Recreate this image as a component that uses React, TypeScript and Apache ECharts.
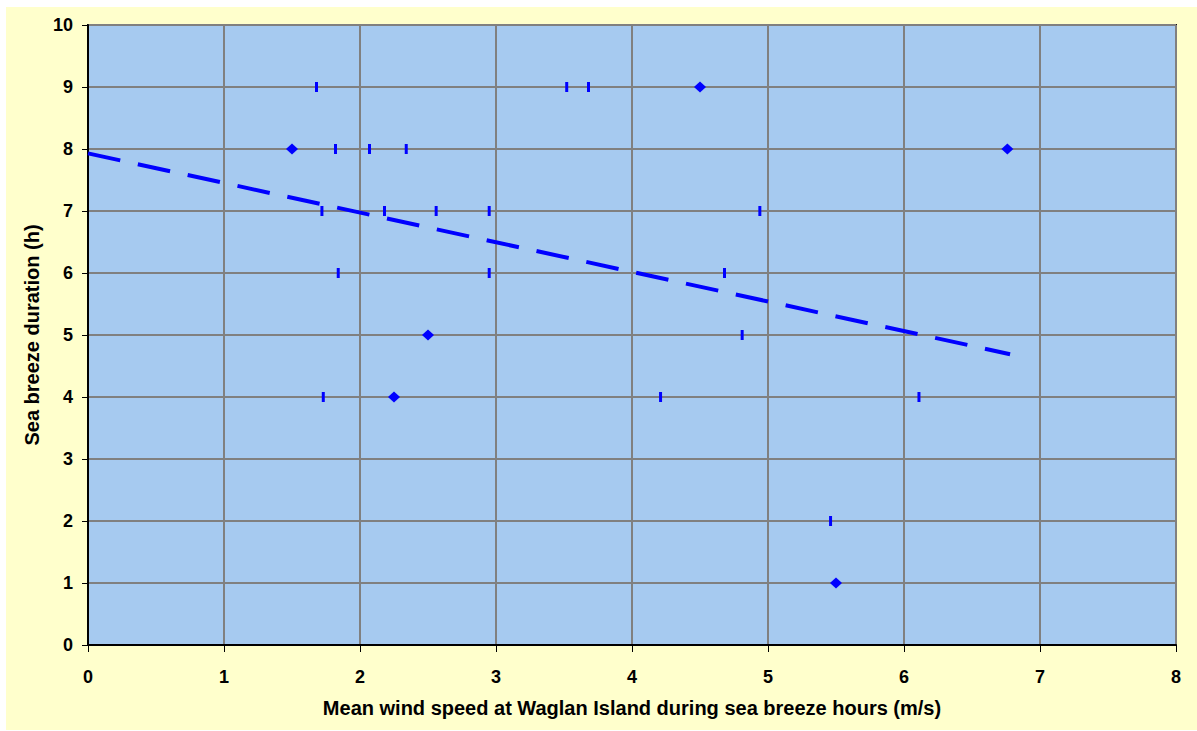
import React, { useEffect, useRef } from "react";
import * as echarts from "echarts";

// Observations drawn as short vertical dashes
const dashX = [1.68, 3.52, 3.68, 1.82, 2.07, 2.34, 1.72, 2.18, 2.56, 2.95, 4.94, 1.84, 2.95, 4.68, 4.81, 1.73, 4.21, 6.11, 5.46];
const dashY = [9, 9, 9, 8, 8, 8, 7, 7, 7, 7, 7, 6, 6, 6, 5, 4, 4, 4, 2];

// Observations drawn as diamonds
const diamondX = [4.5, 1.5, 6.76, 2.5, 2.25, 5.5];
const diamondY = [9, 8, 8, 5, 4, 1];

// Linear trend line end points
const trendX = [0, 6.78];
const trendY = [7.93, 4.69];

const xTitle = "Mean wind speed at Waglan Island during sea breeze hours (m/s)";
const yTitle = "Sea breeze duration (h)";

const FONT = "Liberation Sans, Arial, sans-serif";

export default function App() {
  const ref = useRef<HTMLDivElement>(null);

  useEffect(() => {
    if (!ref.current) return;
    const chart = echarts.init(ref.current, undefined, { renderer: "svg" });
    const zip = (xs: number[], ys: number[]) => xs.map((x, i) => [x, ys[i]]);
    chart.setOption({
      animation: false,
      backgroundColor: "#FFFFCC",
      grid: {
        left: 82,
        top: 18,
        right: 21,
        bottom: 85,
        show: true,
        backgroundColor: "#A6CAF0",
        borderColor: "#111111",
        borderWidth: 2,
      },
      xAxis: {
        type: "value",
        min: 0,
        max: 8,
        interval: 1,
        name: xTitle,
        nameLocation: "middle",
        nameGap: 53,
        nameTextStyle: { fontFamily: FONT, fontWeight: "bold", fontSize: 20, color: "#000" },
        axisLine: { show: true, lineStyle: { color: "#000", width: 2 } },
        axisTick: { show: true, inside: false, length: 7, lineStyle: { color: "#000", width: 1 } },
        axisLabel: { margin: 23, fontFamily: FONT, fontWeight: "bold", fontSize: 18, color: "#000" },
        splitLine: { show: true, lineStyle: { color: "#808080", width: 2 } },
      },
      yAxis: {
        type: "value",
        min: 0,
        max: 10,
        interval: 1,
        name: yTitle,
        nameLocation: "middle",
        nameGap: 46,
        nameTextStyle: { fontFamily: FONT, fontWeight: "bold", fontSize: 20, color: "#000" },
        axisLine: { show: true, lineStyle: { color: "#000", width: 2 } },
        axisTick: { show: true, inside: false, length: 6, lineStyle: { color: "#000", width: 1 } },
        axisLabel: { margin: 15, fontFamily: FONT, fontWeight: "bold", fontSize: 18, color: "#000" },
        splitLine: { show: true, lineStyle: { color: "#808080", width: 2 } },
      },
      series: [
        {
          type: "line",
          data: zip(trendX, trendY),
          showSymbol: false,
          symbol: "none",
          lineStyle: { color: "#0000FF", width: 4, type: [33, 18] },
          z: 3,
        },
        {
          type: "scatter",
          data: zip(dashX, dashY),
          symbol: "rect",
          symbolSize: [3, 10],
          itemStyle: { color: "#0000FF", opacity: 1 },
          z: 4,
        },
        {
          type: "scatter",
          data: zip(diamondX, diamondY),
          symbol: "diamond",
          symbolSize: [12, 11],
          itemStyle: { color: "#0000FF", opacity: 1 },
          z: 4,
        },
      ],
    });
    return () => chart.dispose();
  }, []);

  return (
    <div
      ref={ref}
      style={{ position: "absolute", left: 6, top: 7, width: 1191, height: 723 }}
    />
  );
}
